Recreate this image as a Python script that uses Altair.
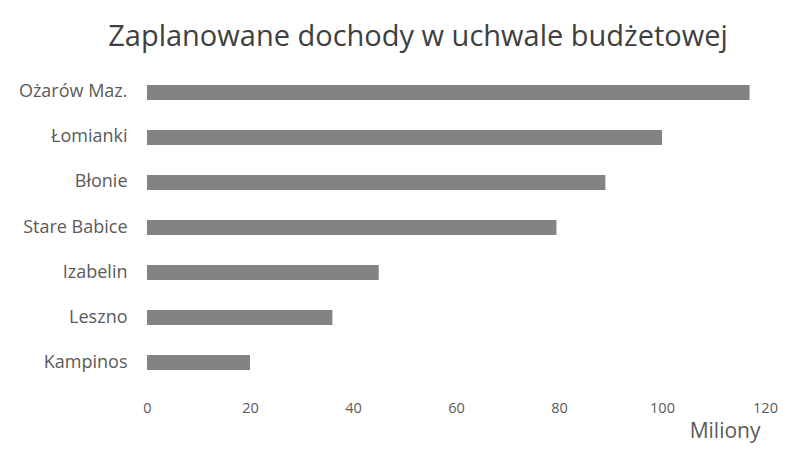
import altair as alt
import pandas as pd

categories = ["Ożarów Maz.", "Łomianki", "Błonie", "Stare Babice", "Izabelin", "Leszno", "Kampinos"]
values = [117, 100, 89, 79.5, 45, 36, 20]
x_ticks = [0, 20, 40, 60, 80, 100, 120]

df = pd.DataFrame({"gmina": categories, "dochody": values})

FONT = "Open Sans"

chart = alt.Chart(df).mark_bar(color="#838383").encode(
    y=alt.Y("gmina:N", sort=categories, title=None,
            scale=alt.Scale(paddingInner=0.667, paddingOuter=0.333),
            axis=alt.Axis(domain=False, ticks=False, labelPadding=20,
                          labelFont=FONT, labelFontSize=18, labelColor="#5a5a5a")),
    x=alt.X("dochody:Q", title="Miliony",
            scale=alt.Scale(domain=[0, 120], nice=False),
            axis=alt.Axis(values=x_ticks, grid=False, domain=False, ticks=False,
                          labelFlush=False, labelPadding=16, labelFont=FONT,
                          labelFontSize=14.5, labelColor="#5a5a5a",
                          titleFont=FONT, titleFontSize=21,
                          titleFontWeight="normal", titleColor="#5a5a5a",
                          titleAnchor="end", titleAlign="right", titleX=613,
                          titleY=52, titleBaseline="alphabetic")),
).properties(
    width=618,
    height=315,
    title=alt.TitleParams("Zaplanowane dochody w uchwale budżetowej", font=FONT,
                          fontSize=29, fontWeight="normal", color="#404040",
                          anchor="middle", dx=-38, offset=18),
    autosize=alt.AutoSizeParams(type="none"),
    padding={"left": 139, "top": 62, "right": 13, "bottom": 61},
).configure_view(stroke=None)

chart.save("out.html", embed_options={"renderer": "svg", "actions": False})
